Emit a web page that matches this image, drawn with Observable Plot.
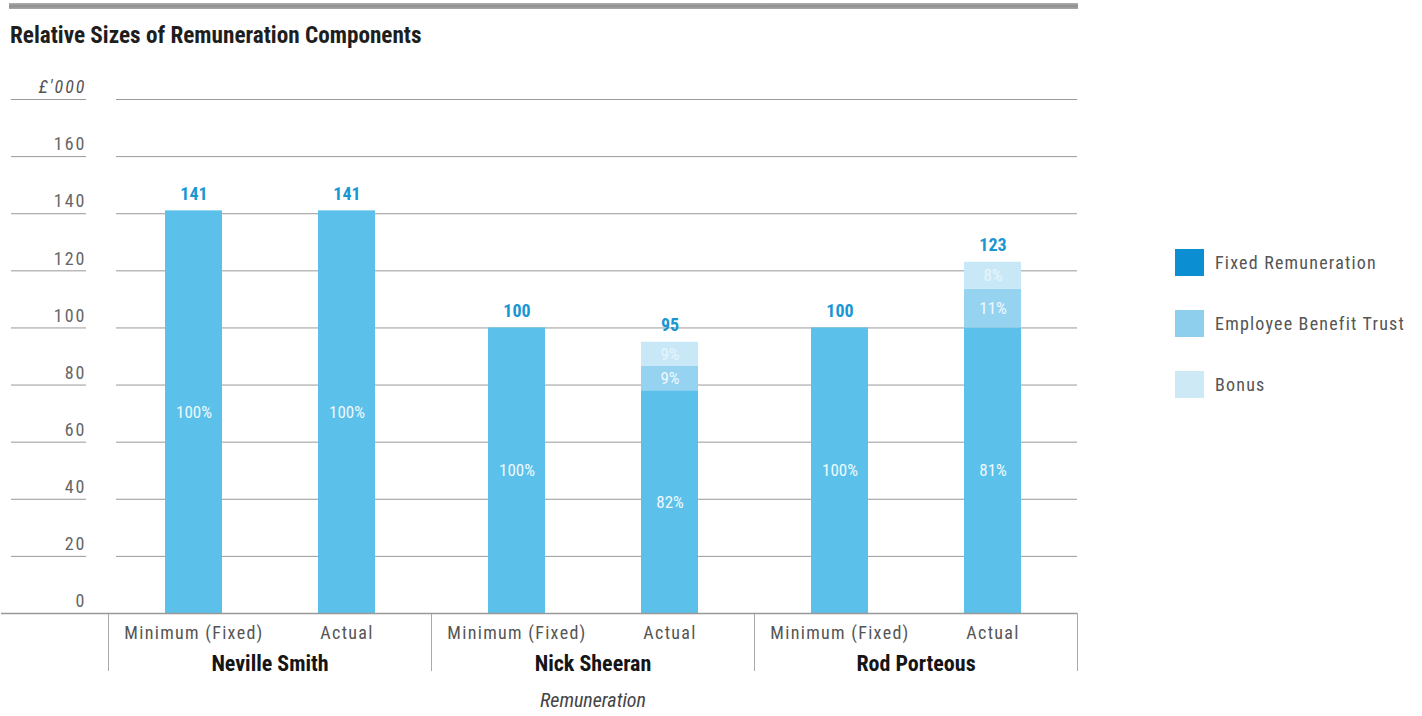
<!DOCTYPE html>
<html>
<head>
<meta charset="utf-8">
<script src="https://cdn.jsdelivr.net/npm/d3@7"></script>
<script src="https://cdn.jsdelivr.net/npm/@observablehq/plot@0.6"></script>
<style>
  html, body { margin: 0; padding: 0; background: #fff; }
  body { width: 1422px; height: 716px; position: relative; overflow: hidden;
         font-family: "Liberation Sans Narrow", "Roboto Condensed", "DejaVu Sans Condensed", "Liberation Sans", sans-serif; }
  #topbar { position: absolute; left: 9px; top: 3px; width: 1069px; height: 6px;
            background: linear-gradient(#b0b0b0, #8e8e8e, #a8a8a8); }
  #title { position: absolute; left: 10px; top: 21px; font-size: 23.2px; font-weight: bold; color: #1e1e1e; }
  #chart { position: absolute; left: 0; top: 60px; }
  #legend { position: absolute; left: 1175px; top: 248px; }
  .item { display: flex; align-items: center; height: 28px; margin-bottom: 33px; }
  .sw { width: 29px; height: 27px; margin-right: 11px; }
  .lab { font-size: 18px; color: #555; letter-spacing: 1.2px; }
</style>
</head>
<body>
<div id="topbar"></div>
<div id="title">Relative Sizes of Remuneration Components</div>
<div id="chart"></div>
<div id="legend"></div>
<script>
const FONT = '"Liberation Sans Narrow", "Roboto Condensed", "DejaVu Sans Condensed", "Liberation Sans", sans-serif';

// ---- data ----
const people = ["Neville Smith", "Nick Sheeran", "Rod Porteous"];
const scenarios = ["Minimum (Fixed)", "Actual"];
const components = ["Fixed Remuneration", "Employee Benefit Trust", "Bonus"];
// bars in order: person x scenario
const fixedValues = [141, 141, 100, 78, 100, 100];
const ebtValues   = [0, 0, 0, 8.5, 0, 13.5];
const bonusValues = [0, 0, 0, 8.5, 0, 9.5];
const totals      = [141, 141, 100, 95, 100, 123];
const fixedPct = ["100%", "100%", "100%", "82%", "100%", "81%"];
const ebtPct   = ["", "", "", "9%", "", "11%"];
const bonusPct = ["", "", "", "9%", "", "8%"];
const yTicks = [0, 20, 40, 60, 80, 100, 120, 140, 160, 180];
const yUnitLabel = "£'000";
const xTitle = "Remuneration";

const barColors    = ["#5bc1ea", "#96d3f0", "#c9e8f7"];
const legendColors = ["#0b8fd2", "#8ecfee", "#cde9f6"];

// ---- build tables ----
const bars = [];
people.forEach((p, i) => scenarios.forEach((s, j) => bars.push({person: p, scenario: s, k: i * 2 + j})));
const rows = [];
bars.forEach(b => {
  const vals = [fixedValues[b.k], ebtValues[b.k], bonusValues[b.k]];
  const pcts = [fixedPct[b.k], ebtPct[b.k], bonusPct[b.k]];
  vals.forEach((v, c) => { if (v > 0) rows.push({person: b.person, scenario: b.scenario, component: components[c], value: v, label: pcts[c]}); });
});
const totalRows = bars.map(b => ({person: b.person, scenario: b.scenario, total: totals[b.k]}));
const gridRows = [];
people.forEach(p => yTicks.filter(t => t > 0).forEach(t => gridRows.push({person: p, y: t})));

const chart = Plot.plot({
  width: 1090,
  height: 656,
  marginLeft: 107,
  marginRight: 12,
  marginTop: 39,
  marginBottom: 103,
  style: {fontFamily: FONT, fontSize: "18px", color: "#555", background: "transparent", overflow: "visible"},
  fx: {domain: people, padding: 0, label: null},
  x: {domain: scenarios, paddingInner: 0.63, paddingOuter: 0.37, label: null},
  y: {domain: [0, 180], label: null},
  color: {domain: components, range: barColors},
  marks: [
    // gridlines
    Plot.ruleY(gridRows.filter(d => d.person === people[0]), {fx: "person", y: "y", stroke: "#999", strokeWidth: 1, insetLeft: 8}),
    Plot.ruleY(gridRows.filter(d => d.person !== people[0]), {fx: "person", y: "y", stroke: "#999", strokeWidth: 1}),
    // group separators
    Plot.frame({anchor: "left", stroke: "#aaa", strokeWidth: 1, insetTop: 514, insetBottom: -57}),
    Plot.frame({anchor: "right", stroke: "#aaa", strokeWidth: 1, insetTop: 514, insetBottom: -57}),
    // stacked bars
    Plot.barY(rows, {fx: "person", x: "scenario", y: "value", fill: "component"}),
    // baseline
    Plot.ruleY([0], {stroke: "#999", strokeWidth: 1.5}),
    // segment labels
    Plot.text(rows, Plot.stackY({fx: "person", x: "scenario", y: "value", z: "component", text: "label",
      fill: d => d.component === "Bonus" ? "#e6f5fc" : "#f0f9fe", fontSize: 17, ariaLabel: "segment label"})),
    // totals
    Plot.text(totalRows, {fx: "person", x: "scenario", y: "total", text: "total", dy: -17,
      fill: "#1996d4", fontWeight: "bold", fontSize: 18, ariaLabel: "total label"}),
    // left axis: tick segments
    Plot.axisY({ticks: yTicks, tickSize: 75, dx: -22, tickFormat: () => "", stroke: "#999"}),
    Plot.axisY({ticks: [0], tickSize: 107, tickFormat: () => "", stroke: "#999", strokeWidth: 1.5}),
    // left axis labels
    Plot.axisY({ticks: yTicks.filter(t => t < 180), tickSize: 0, tickPadding: 0, dx: -22, dy: -12,
      fontSize: 18, fill: "#666", tickFormat: d => String(d)}),
    Plot.axisY({ticks: [180], tickSize: 0, tickPadding: 0, dx: -22, dy: -12,
      fontSize: 18, fill: "#555", fontStyle: "italic", tickFormat: () => yUnitLabel}),
    // x axis
    Plot.axisX({tickSize: 0, tickPadding: 13, fontSize: 18, fill: "#555"}),
    Plot.axisFx({anchor: "bottom", tickSize: 0, tickPadding: 42, fontSize: 22, fontWeight: "bold", fill: "#151515", label: null}),
    Plot.text([{person: people[1]}], {fx: "person", frameAnchor: "bottom", dy: 93, text: () => xTitle,
      fontStyle: "italic", fontSize: 20, fill: "#444", ariaLabel: "x title"})
  ]
});
// letter spacing to mimic the reference's loosely tracked condensed type
const svg = d3.select(chart);
svg.selectAll('g[aria-label="x-axis tick label"]').attr("letter-spacing", "1.3px");
svg.selectAll('g[aria-label="y-axis tick label"]').attr("letter-spacing", "2px");
svg.selectAll('g[aria-label="segment label"]').attr("letter-spacing", "1.2px");
svg.selectAll('g[aria-label="total label"]').attr("letter-spacing", "0.5px");
svg.selectAll('g[aria-label="x title"]').attr("letter-spacing", "1.2px");
document.getElementById("chart").appendChild(chart);

// legend
const legend = document.getElementById("legend");
components.forEach((c, i) => {
  const item = document.createElement("div");
  item.className = "item";
  item.innerHTML = `<div class="sw" style="background:${legendColors[i]}"></div><div class="lab">${c}</div>`;
  legend.appendChild(item);
});
</script>
</body>
</html>
